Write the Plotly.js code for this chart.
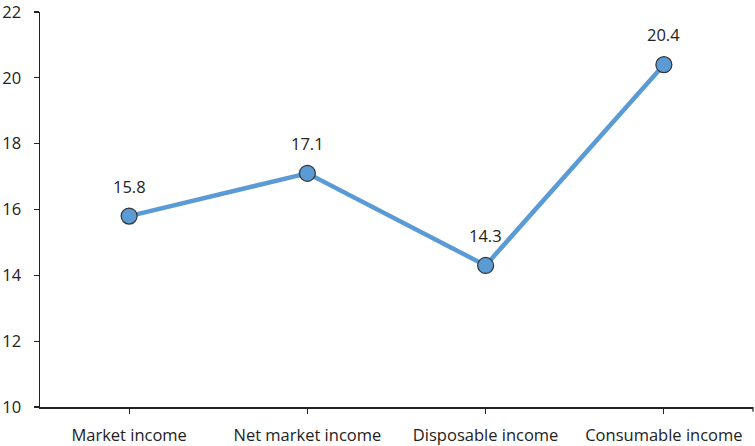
<!DOCTYPE html>
<html>
<head>
<meta charset="utf-8">
<script src="https://cdn.plot.ly/plotly-3.0.1.min.js"></script>
<style>html,body{margin:0;padding:0;background:#fff;}#chart{width:755px;height:446px;}</style>
</head>
<body>
<div id="chart"></div>
<script>
const categories = ["Market income", "Net market income", "Disposable income", "Consumable income"];
const values = [15.8, 17.1, 14.3, 20.4];
const yTicks = [10, 12, 14, 16, 18, 20, 22];

const fontFam = "'Open Sans', sans-serif";
const trace = {
  x: categories,
  y: values,
  type: "scatter",
  mode: "lines+markers",
  line: {color: "#5b9bd5", width: 4.5},
  marker: {size: 16, color: "#5b9bd5", line: {color: "#333333", width: 1.2}},
  hoverinfo: "x+y"
};
const annotations = categories.map((c, i) => ({
  x: c, y: values[i], xref: "x", yref: "y",
  text: values[i].toFixed(1), showarrow: false, yshift: 30,
  font: {family: fontFam, size: 16.5, color: "#222"}
}));
const layout = {
  width: 755, height: 446,
  margin: {l: 40, r: 2, t: 12, b: 39},
  paper_bgcolor: "#fff", plot_bgcolor: "#fff",
  showlegend: false,
  font: {family: fontFam, size: 16.5, color: "#222"},
  xaxis: {
    type: "category", range: [-0.5, 3.5],
    showline: true, linecolor: "#222", linewidth: 1.5,
    ticks: "outside", ticklen: 5, tickcolor: "#222", tickwidth: 1.2,
    ticklabelstandoff: 8, ticklabeloverflow: "allow",
    showgrid: false, zeroline: false,
    tickfont: {family: fontFam, size: 16.5, color: "#222"}
  },
  yaxis: {
    range: [10, 22], tickvals: yTicks,
    showline: true, linecolor: "#222", linewidth: 1.5,
    ticks: "outside", ticklen: 5, tickcolor: "#222", tickwidth: 1.2,
    ticklabelstandoff: 9, ticklabeloverflow: "allow",
    showgrid: false, zeroline: false,
    tickfont: {family: fontFam, size: 16.5, color: "#222"}
  },
  shapes: [{type: "line", xref: "paper", yref: "paper", x0: 1, x1: 1, y0: 0, y1: -0.012,
            line: {color: "#222", width: 1.2}}],
  annotations: annotations
};
Plotly.newPlot("chart", [trace], layout, {displayModeBar: false, staticPlot: true});
</script>
</body>
</html>
